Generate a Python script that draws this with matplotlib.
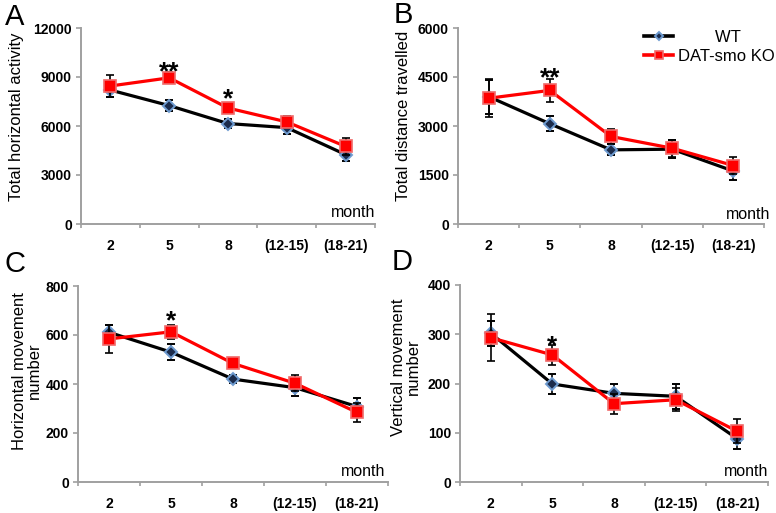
import matplotlib
matplotlib.use("Agg")
import matplotlib.pyplot as plt
from matplotlib.lines import Line2D
import numpy as np

plt.rcParams['font.family'] = ['Liberation Sans', 'DejaVu Sans']

# dane
months = ['2', '5', '8', '(12-15)', '(18-21)']

A_wt = [8200, 7250, 6150, 5900, 4250]
A_wt_err = [450, 350, 270, 420, 400]
A_ko = [8450, 8950, 7100, 6250, 4750]
A_ko_err = [700, 330, 330, 350, 530]

B_wt = [3900, 3070, 2270, 2290, 1620]
B_wt_err = [520, 230, 170, 280, 280]
B_ko = [3850, 4090, 2680, 2320, 1790]
B_ko_err = [580, 350, 230, 260, 250]

C_wt = [611, 530, 420, 385, 308]
C_wt_err = [28, 32, 17, 34, 34]
C_ko = [584, 613, 484, 403, 284]
C_ko_err = [58, 28, 14, 33, 40]

D_wt = [302, 199, 180, 174, 88]
D_wt_err = [25, 21, 20, 26, 21]
D_ko = [293, 258, 159, 167, 103]
D_ko_err = [48, 21, 20, 23, 24]

W, H = 776, 513
fig = plt.figure(figsize=(W / 100, H / 100), dpi=100)


def fx(px):
    return px / W


def fy(py):
    return 1 - py / H


# panele: (lewo, prawo, gora, dol) w pikselach
panels = [
    dict(box=(81, 375, 28, 224), wt=A_wt, wte=A_wt_err, ko=A_ko, koe=A_ko_err,
         ymax=12000, step=3000, label='Total horizontal activity', lab_xy=(17, 117),
         letter='A', let_xy=(5, 25), month_xy=(375, 217),
         stars=[(1, 9800, '**'), (2, 8150, '*')]),
    dict(box=(458, 764, 28, 224), wt=B_wt, wte=B_wt_err, ko=B_ko, koe=B_ko_err,
         ymax=6000, step=1500, label='Total distance travelled', lab_xy=(403, 116),
         letter='B', let_xy=(394, 23), month_xy=(770, 219),
         stars=[(1, 4700, '**')]),
    dict(box=(78, 388, 286, 482), wt=C_wt, wte=C_wt_err, ko=C_ko, koe=C_ko_err,
         ymax=800, step=200, label='Horizontal movement\nnumber', lab_xy=(27, 371),
         letter='C', let_xy=(5, 272), month_xy=(385, 476),
         stars=[(1, 688, '*')]),
    dict(box=(460, 768, 285, 482), wt=D_wt, wte=D_wt_err, ko=D_ko, koe=D_ko_err,
         ymax=400, step=100, label='Vertical movement\nnumber', lab_xy=(406, 367),
         letter='D', let_xy=(392, 270), month_xy=(768, 476),
         stars=[(1, 292, '*')]),
]

x = np.arange(len(months))
gray = '#a0a0a0'

wt_style = dict(color='black', lw=2.3, marker='D', ms=6, mfc='#1c2c4c',
                mec='#6e9bd0', mew=1.4)
ko_style = dict(color='#ff0000', lw=2.3, marker='s', ms=8.5, mfc='#ff0000',
                mec='#f06a6a', mew=1.2)
err_style = dict(ecolor='black', elinewidth=1.2, capsize=2.8, capthick=1.2)

for p in panels:
    l, r, t, b = p['box']
    ax = fig.add_axes([fx(l), fy(b), (r - l) / W, (b - t) / H])

    # WT - czarna linia, romby
    ax.errorbar(x, p['wt'], yerr=p['wte'], zorder=3, **wt_style, **err_style)
    # KO - czerwona linia, kwadraty
    ax.errorbar(x, p['ko'], yerr=p['koe'], zorder=4, **ko_style, **err_style)

    ax.set_xlim(-0.5, len(months) - 0.5)
    ax.set_ylim(0, p['ymax'])
    ax.set_yticks(np.arange(0, p['ymax'] + 1, p['step']))
    ax.set_xticks(x)
    ax.set_xticklabels(months)
    ax.set_xticks(np.arange(-0.5, len(months)), minor=True)

    for s in ['top', 'right']:
        ax.spines[s].set_visible(False)
    for s in ['left', 'bottom']:
        ax.spines[s].set_color(gray)
        ax.spines[s].set_linewidth(1.4)

    ax.tick_params(axis='x', which='major', length=0, pad=11, labelsize=10)
    ax.tick_params(axis='x', which='minor', length=3, width=1.2, color=gray, direction='out')
    ax.tick_params(axis='y', length=3.5, width=1.2, color=gray, pad=3, labelsize=10)
    for lab in ax.get_xticklabels() + ax.get_yticklabels():
        lab.set_fontweight('bold')

    for xi, yi, s in p['stars']:
        ax.annotate(s, (xi, yi), xytext=(0, -6), textcoords='offset points',
                    ha='center', va='center', fontsize=19, fontweight='bold')

    lx, ly = p['lab_xy']
    fig.text(fx(lx), fy(ly), p['label'], rotation=90, ha='center', va='center',
             fontsize=12, linespacing=1.05)
    mx, my = p['month_xy']
    fig.text(fx(mx), fy(my), 'month', ha='right', va='baseline', fontsize=11.5)
    px_, py_ = p['let_xy']
    fig.text(fx(px_), fy(py_), p['letter'], ha='left', va='baseline', fontsize=21)

    if p['letter'] == 'B':
        handles = [Line2D([], [], **dict(wt_style, ms=4, lw=2.6)),
                   Line2D([], [], **dict(ko_style, ms=6, lw=2.6))]
        ax.legend(handles, ['        WT', 'DAT-smo KO'], loc='upper left',
                  bbox_to_anchor=(fx(636), fy(22)),
                  bbox_transform=fig.transFigure, frameon=False, fontsize=12,
                  handlelength=1.7, handletextpad=0.35, labelspacing=0.2,
                  borderpad=0)

fig.savefig('out.png', dpi=100)
